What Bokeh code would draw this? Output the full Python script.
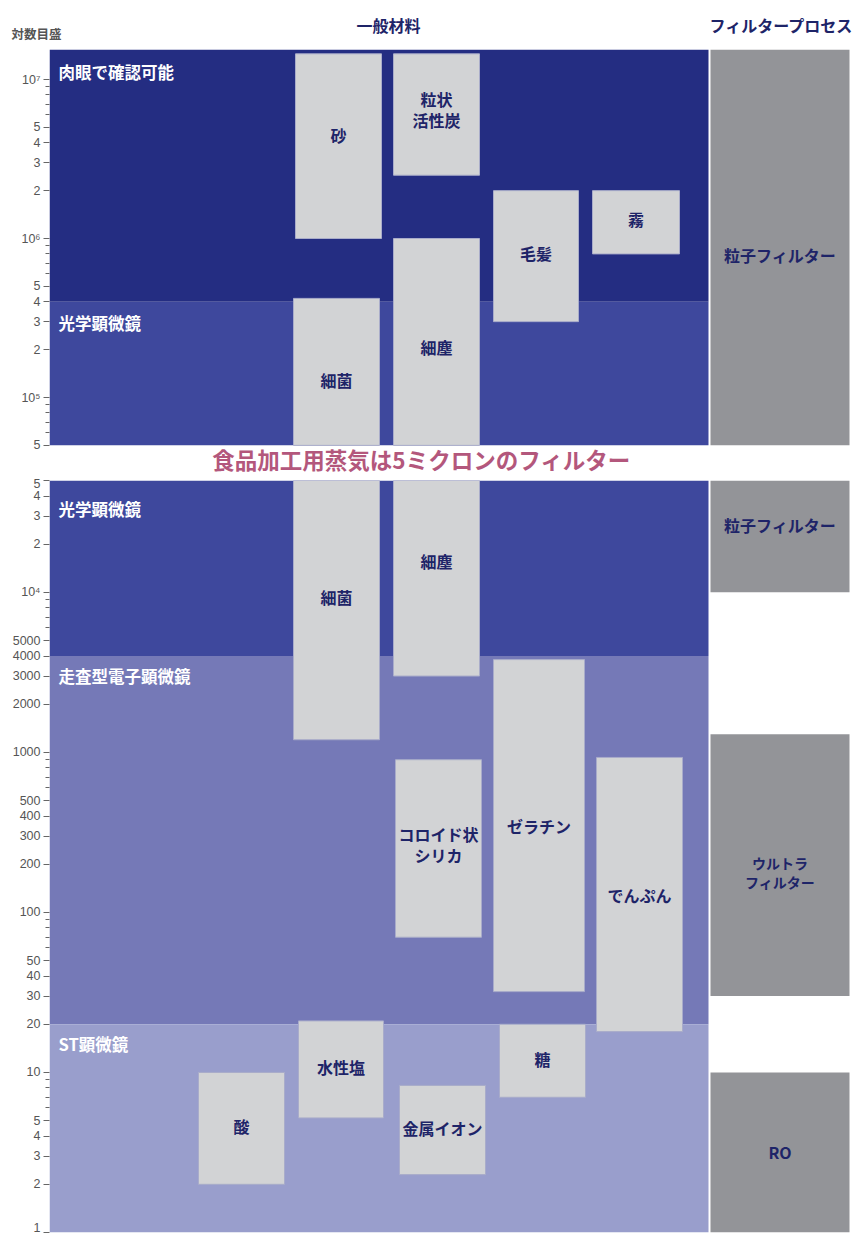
import math
from bokeh.plotting import figure
from bokeh.models import ColumnDataSource, FixedTicker, Range1d
from bokeh.layouts import column
from bokeh.embed import file_html
from bokeh.resources import INLINE
from bokeh.core.properties import value

# ---------------- data ----------------
region_names = ["肉眼で確認可能", "光学顕微鏡", "走査型電子顕微鏡", "ST顕微鏡"]
region_low = [4e5, 4e3, 20, 1]
region_high = [1.55e7, 4e5, 4e3, 20]

material_names = ["砂", "粒状\n活性炭", "毛髪", "霧", "細菌", "細塵",
                  "コロイド状\nシリカ", "ゼラチン", "でんぷん", "水性塩", "酸", "金属イオン", "糖"]
material_low = [1e6, 2.5e6, 3e5, 8e5, 1.2e3, 3e3, 70, 32, 18, 5.2, 2, 2.3, 7]
material_high = [1.45e7, 1.45e7, 2e6, 2e6, 4.2e5, 1e6, 900, 3800, 930, 21, 10, 8.3, 20]

filter_names = ["粒子フィルター", "ウルトラ\nフィルター", "RO"]
filter_low = [1e4, 30, 1]
filter_high = [1.55e7, 1300, 10]

top_ticks = [1e7, 5e6, 4e6, 3e6, 2e6, 1e6, 5e5, 4e5, 3e5, 2e5, 1e5, 5e4]
top_tick_labels = ["10⁷", "5", "4", "3", "2", "10⁶", "5", "4", "3", "2", "10⁵", "5"]
top_minor = [9e6, 8e6, 7e6, 6e6, 9e5, 8e5, 7e5, 6e5, 9e4, 8e4, 7e4, 6e4]

bottom_ticks = [5e4, 4e4, 3e4, 2e4, 1e4, 5000, 4000, 3000, 2000, 1000, 500, 400, 300, 200,
                100, 50, 40, 30, 20, 10, 5, 4, 3, 2, 1]
bottom_tick_labels = ["5", "4", "3", "2", "10⁴", "5000", "4000", "3000", "2000", "1000", "500",
                      "400", "300", "200", "100", "50", "40", "30", "20", "10", "5", "4", "3", "2", "1"]
bottom_minor = [9000, 8000, 7000, 6000, 900, 800, 700, 600, 90, 80, 70, 60, 9, 8, 7, 6]

title_axis = "対数目盛"
title_materials = "一般材料"
title_filters = "フィルタープロセス"
note_text = "食品加工用蒸気は5ミクロンのフィルター"

# ---------------- layout / style ----------------
FONT = "Noto Sans CJK JP"
NAVY = "#1e2468"
REGION_COLORS = ["#242d82", "#3e489d", "#7579b7", "#999ecc"]
BOX_FILL = "#d2d3d5"
BOX_LINE = "#a9acca"
FILTER_FILL = "#939498"
PINK = "#b3577c"

region_x = (49, 708)
filter_x = (710, 849)
mat_left = [295, 393, 493, 592, 293, 393, 395, 493, 596, 298, 198, 399, 499]
mat_right = [381, 479, 578, 679, 379, 479, 481, 584, 682, 383, 284, 485, 585]
mat_nudge_top = [-11, -5, -3, -3, 8, 5, 0, 0, 0, 0, 0, 0, 0]
mat_nudge_bottom = [0, 0, 0, 0, -13, -17, -4, 0, 0, -2, -2, -2, -2]
filt_nudge_top = [8, 0, 0]
filt_nudge_bottom = [-11, 7, 0]
reg_label_off_top = [22, 21, 21, 21]
reg_label_off_bottom = [21, 28, 20, 20]

HEADER_H = 49
DEC_TOP = 159.0          # px per decade, top panel (10^7 at page y 79)
TOP_FRAME_H = 427        # page y 49 .. 476
top_hi_log = 7 + 30 / DEC_TOP
top_lo_log = top_hi_log - TOP_FRAME_H / DEC_TOP
TOP_HI = 10 ** top_hi_log
TOP_LO = 10 ** top_lo_log
TOP_PANEL_LO = 5e4
BOT_LO, BOT_HI = 1.0, 5e4


def top_val(page_y):
    return 10 ** (7 - (page_y - 79) / DEC_TOP)


def make_fig(frame_h, ylo, yhi, btop, bbot, ticks, labels, minor):
    p = figure(frame_width=807, frame_height=frame_h,
               x_range=Range1d(49, 856), y_range=Range1d(ylo, yhi),
               y_axis_type="log", x_axis_location=None,
               toolbar_location=None, output_backend="svg",
               min_border_left=49, min_border_right=0,
               min_border_top=btop, min_border_bottom=bbot,
               outline_line_color=None, background_fill_color="white",
               border_fill_color="white")
    p.grid.visible = False
    ax = p.yaxis[0]
    ax.ticker = FixedTicker(ticks=ticks, minor_ticks=minor)
    ax.major_label_overrides = {t: l for t, l in zip(ticks, labels)}
    ax.axis_line_color = None
    ax.major_tick_in = 0
    ax.minor_tick_in = 0
    ax.major_tick_out = 6
    ax.minor_tick_out = 4
    ax.major_tick_line_color = "#666666"
    ax.minor_tick_line_color = "#666666"
    ax.major_label_standoff = 3
    ax.major_label_text_font = "Liberation Sans"
    ax.major_label_text_font_size = "12.5px"
    ax.major_label_text_color = "#555555"
    return p


def clip(lo, hi, plo, phi):
    b, t = max(lo, plo), min(hi, phi)
    return (b, t) if t > b * 1.0001 else None


def draw_panel(p, plo, phi, top_panel):
    # background bands
    rsrc = dict(l=[], r=[], b=[], t=[], c=[])
    rlab = dict(x=[], y=[], text=[], dy=[])
    for i, name in enumerate(region_names):
        c = clip(region_low[i], region_high[i], plo, phi)
        if c is None:
            continue
        rsrc["l"].append(region_x[0]); rsrc["r"].append(region_x[1])
        rsrc["b"].append(c[0]); rsrc["t"].append(c[1]); rsrc["c"].append(REGION_COLORS[i])
        rlab["x"].append(58); rlab["y"].append(c[1]); rlab["text"].append(name)
        rlab["dy"].append(reg_label_off_top[i] if top_panel else reg_label_off_bottom[i])
    p.quad(left="l", right="r", bottom="b", top="t", fill_color="c", line_color=None,
           source=ColumnDataSource(rsrc))
    p.text(x="x", y="y", text="text", y_offset="dy", source=ColumnDataSource(rlab),
           text_font=value(FONT), text_font_size="16.5px", text_font_style="bold",
           text_color="white", text_align="left", text_baseline="middle")

    # filter column
    fsrc = dict(l=[], r=[], b=[], t=[])
    flab = dict(x=[], y=[], text=[], dy=[], fs=[])
    for i, name in enumerate(filter_names):
        c = clip(filter_low[i], filter_high[i], plo, phi)
        if c is None:
            continue
        fsrc["l"].append(filter_x[0]); fsrc["r"].append(filter_x[1])
        fsrc["b"].append(c[0]); fsrc["t"].append(c[1])
        flab["x"].append((filter_x[0] + filter_x[1]) / 2)
        flab["y"].append(math.sqrt(c[0] * c[1]))
        flab["text"].append(name)
        flab["dy"].append(filt_nudge_top[i] if top_panel else filt_nudge_bottom[i])
        flab["fs"].append("14px" if "\n" in name else "16px")
    p.quad(left="l", right="r", bottom="b", top="t", fill_color=FILTER_FILL, line_color=None,
           source=ColumnDataSource(fsrc))
    p.text(x="x", y="y", text="text", y_offset="dy", source=ColumnDataSource(flab),
           text_font=value(FONT), text_font_size="fs", text_font_style="bold",
           text_color=NAVY, text_align="center", text_baseline="middle",
           text_line_height=0.96)

    # material boxes
    msrc = dict(l=[], r=[], b=[], t=[])
    mlab = dict(x=[], y=[], text=[], dy=[])
    for i, name in enumerate(material_names):
        c = clip(material_low[i], material_high[i], plo, phi)
        if c is None:
            continue
        msrc["l"].append(mat_left[i]); msrc["r"].append(mat_right[i])
        msrc["b"].append(c[0]); msrc["t"].append(c[1])
        mlab["x"].append((mat_left[i] + mat_right[i]) / 2)
        mlab["y"].append(math.sqrt(c[0] * c[1]))
        mlab["text"].append(name)
        mlab["dy"].append(mat_nudge_top[i] if top_panel else mat_nudge_bottom[i])
    p.quad(left="l", right="r", bottom="b", top="t", fill_color=BOX_FILL, line_color=BOX_LINE,
           line_width=1, source=ColumnDataSource(msrc))
    p.text(x="x", y="y", text="text", y_offset="dy", source=ColumnDataSource(mlab),
           text_font=value(FONT), text_font_size="16px", text_font_style="bold",
           text_color=NAVY, text_align="center", text_baseline="middle",
           text_line_height=0.84)


# ---------------- header (titles), a separate root so it is not frame-aligned ----------------
ph = figure(frame_width=856, frame_height=HEADER_H, x_range=Range1d(0, 856),
            y_range=Range1d(0, HEADER_H), x_axis_location=None, y_axis_location=None,
            toolbar_location=None, output_backend="svg", min_border=0,
            outline_line_color=None, background_fill_color="white", border_fill_color="white")
ph.grid.visible = False
ph.text(x=[36], y=[HEADER_H - 33], text=[title_axis], text_font=value(FONT),
        text_font_size="12.5px", text_font_style="bold", text_color="#555555",
        text_align="center", text_baseline="middle")
ph.text(x=[388, 781], y=[HEADER_H - 24, HEADER_H - 24], text=[title_materials, title_filters],
        text_font=value(FONT), text_font_size="16px", text_font_style="bold", text_color=NAVY,
        text_align="center", text_baseline="middle")

# ---------------- top panel ----------------
p1 = make_fig(TOP_FRAME_H, TOP_LO, TOP_HI, 0, 0, top_ticks, top_tick_labels, top_minor)
draw_panel(p1, TOP_PANEL_LO, TOP_HI, True)
p1.text(x=[421], y=[top_val(458.5)], text=[note_text], text_font=value(FONT),
        text_font_size="22.5px", text_font_style="bold", text_color=PINK,
        text_align="center", text_baseline="middle")

# ---------------- bottom panel ----------------
p2 = make_fig(752, BOT_LO, BOT_HI, 4, 2, bottom_ticks, bottom_tick_labels, bottom_minor)
draw_panel(p2, BOT_LO, BOT_HI, False)

body = column(p1, p2, spacing=0)
open("out.html", "w").write(file_html([ph, body], INLINE))
